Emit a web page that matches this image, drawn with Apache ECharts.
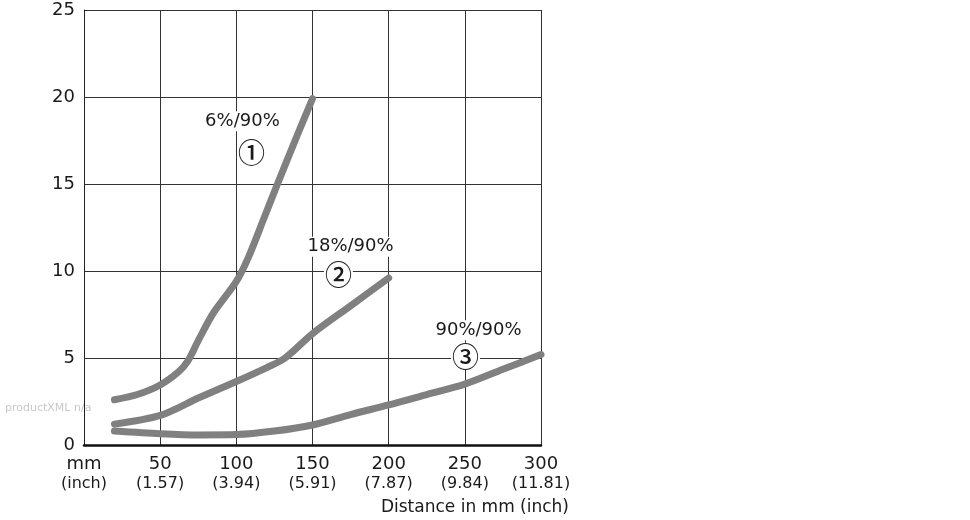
<!DOCTYPE html>
<html><head><meta charset="utf-8">
<script src="https://cdn.jsdelivr.net/npm/echarts@6/dist/echarts.min.js"></script>
<style>html,body{margin:0;padding:0;background:#fff}#c{width:970px;height:520px}</style>
</head><body><div id="c"></div>
<script>
const xTicksMm = ['mm', '50', '100', '150', '200', '250', '300'];
const xTicksInch = ['(inch)', '(1.57)', '(3.94)', '(5.91)', '(7.87)', '(9.84)', '(11.81)'];
const seriesNames = ['6%/90%', '18%/90%', '90%/90%'];
const seriesMarks = ['①', '②', '③'];
const curve1 = [[20,2.6],[35,2.9],[50,3.45],[62,4.2],[68,4.8],[75,6.0],[85,7.6],[100,9.4],[108,10.8],[118,13.0],[127,15.0],[140,17.8],[150,19.9]];
const curve2 = [[20,1.2],[50,1.7],[75,2.7],[100,3.65],[120,4.45],[132,5.0],[150,6.4],[175,8.0],[200,9.6]];
const curve3 = [[20,0.8],[50,0.65],[75,0.58],[100,0.6],[125,0.8],[150,1.15],[175,1.75],[200,2.3],[225,2.9],[250,3.5],[275,4.35],[300,5.2]];
// label anchor points (data coords) for annotations
const labelPos = [[104,18.6],[175,11.4],[259,6.6]];
const markPos = [[110,16.8],[167,9.8],[250.5,5.1]];

const FONT = 'DejaVu Sans';
const TXT = '#1a1a1a';
const chart = echarts.init(document.getElementById('c'), null, {renderer:'canvas'});
const lineStyle = {color:'#808080', width:7, cap:'round', join:'round'};
function mkSeries(name, data) {
  return {name, type:'line', data, showSymbol:false, smooth:0.3, lineStyle, silent:true, z:3};
}
const annot = [];
seriesNames.forEach((n,i)=>{
  annot.push({value:labelPos[i], label:n, size:18, fam:FONT, pad:[1,2], w:'normal'});
  annot.push({value:markPos[i], label:seriesMarks[i], size:27, fam:'Noto Sans CJK SC', pad:[0,1], w:500});
});
chart.setOption({
  animation:false,
  backgroundColor:'#fff',
  grid:{left:84, right:429, top:10, bottom:75, containLabel:false},
  xAxis:{type:'value', min:0, max:300, interval:50,
    axisLine:{show:true, lineStyle:{color:'#111', width:2.5}},
    axisTick:{show:false},
    splitLine:{show:true, lineStyle:{color:'#333', width:1}},
    axisLabel:{margin:9, fontFamily:FONT, color:TXT, lineHeight:20,
      formatter:(v)=>{const i=Math.round(v/50);return '{a|'+xTicksMm[i]+'}\n{b|'+xTicksInch[i]+'}';},
      rich:{a:{fontSize:18, fontFamily:FONT, color:TXT, lineHeight:20}, b:{fontSize:16, fontFamily:FONT, color:TXT, lineHeight:20}}},
    name:'Distance in mm (inch)', nameLocation:'end',
    nameTextStyle:{fontFamily:FONT, fontSize:17, color:TXT, align:'right', verticalAlign:'top', padding:[54,-13,0,0]}
  },
  yAxis:{type:'value', min:0, max:25, interval:5,
    axisLine:{show:true, lineStyle:{color:'#222', width:1}},
    axisTick:{show:false},
    splitLine:{show:true, lineStyle:{color:'#333', width:1}},
    axisLabel:{margin:9, fontFamily:FONT, fontSize:18, color:TXT, padding:[6,0,0,0]}
  },
  series:[
    mkSeries(seriesNames[0], curve1),
    mkSeries(seriesNames[1], curve2),
    mkSeries(seriesNames[2], curve3),
    {type:'scatter', silent:true, z:4, symbolSize:0, itemStyle:{opacity:1},
      data: annot.map(a=>({value:a.value, label:{show:true, position:'inside', formatter:a.label, opacity:1,
        fontSize:a.size, fontFamily:a.fam, fontWeight:a.w, color:TXT, textBorderWidth:0, backgroundColor:'#fff', padding:a.pad}}))}
  ],
  graphic:[{type:'text', left:5, top:403, style:{text:'productXML n/a', font:'11px '+FONT, fill:'#c8c8c8'}}]
});
</script></body></html>
